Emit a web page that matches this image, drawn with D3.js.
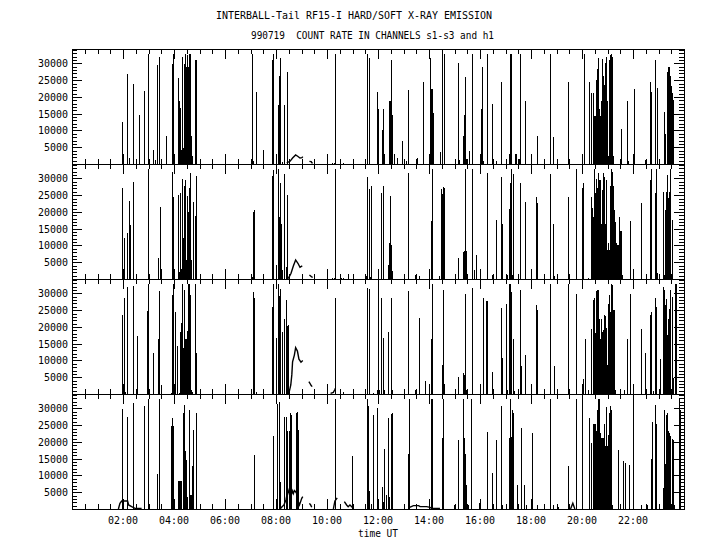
<!DOCTYPE html>
<html>
<head>
<meta charset="utf-8">
<script src="https://cdn.jsdelivr.net/npm/d3@7"></script>
<style>
html,body{margin:0;padding:0;background:#fff;}
svg{display:block;}
text{font-family:"DejaVu Sans Mono","Liberation Mono",monospace;fill:#000;}
</style>
</head>
<body>
<svg id="chart" width="720" height="550"></svg>
<script>
// ---------- text ----------
const titleLine1 = "INTERBALL-Tail RF15-I HARD/SOFT X-RAY EMISSION";
const titleLine2 = "990719  COUNT RATE IN CHANNELS s1-s3 and h1";
const xAxisTitle = "time UT";
const channels = ["s1", "s2", "s3", "h1"];

// ---------- ticks ----------
const xTickHours = [2, 4, 6, 8, 10, 12, 14, 16, 18, 20, 22];
const xTickLabels = ["02:00","04:00","06:00","08:00","10:00","12:00","14:00","16:00","18:00","20:00","22:00"];
const yTickValues = [5000, 10000, 15000, 20000, 25000, 30000];
const yTickLabels = ["5000","10000","15000","20000","25000","30000"];
const xDomain = [0, 24];
const yDomain = [0, 34300];

// ---------- data: spikes [hour UT, counts] ----------
const spikesS1 = [
 [1.97,12500],[2.01,2500],[2.16,26800],[2.25,1800],[2.41,23800],[2.64,14500],[2.82,21700],[2.99,32767],
 [3.19,4100],[3.27,1100],[3.35,29500],[3.42,32000],[3.50,1300],[3.67,8500],[3.93,29800],[3.97,32767],[4.01,2500],
 [4.16,25600],[4.20,18800],[4.24,16600],[4.27,4300],[4.31,32000],[4.35,4800],[4.39,29800],[4.43,32767],
 [4.47,29000],[4.51,32500],[4.55,28800],[4.59,32767],[4.63,32767],[4.67,8500],[4.71,2300],[4.82,31000],[4.86,31000],
 [7.05,1300],[7.07,32767],[7.10,800],[7.23,21600],[7.50,4300],[7.86,31000],[7.90,32767],[8.00,2500],
 [8.09,17500],[8.13,26200],[8.17,31500],[8.24,500],[8.33,17500],[8.44,27500],
 [10.20,300],[10.27,300],[10.30,400],[10.33,32767],[10.63,300],
 [11.58,32767],[11.66,31600],[11.96,21600],[12.00,16500],[12.16,10000],[12.20,16500],[12.25,3000],
 [12.44,18700],[12.48,18700],[12.52,31000],[12.56,14600],[12.61,3000],[12.75,1700],[12.94,7000],[13.09,800],
 [13.19,22200],[13.49,1300],[13.54,1800],[13.78,24600],[14.01,2300],[14.05,31500],[14.08,22400],[14.10,22400],
 [14.14,15200],[14.44,3500],[14.52,32767],[14.60,32767],[15.15,30100],[15.19,1100],
 [15.35,8500],[15.38,14500],[15.42,25800],[15.45,1500],[15.48,1300],[15.58,4000],[15.67,32767],[15.70,27300],
 [16.01,2500],[16.05,16500],[16.09,29000],[16.13,1000],[16.29,32767],[16.48,18000],[16.52,1300],[16.61,1000],
 [16.64,1000],[16.84,24600],[17.13,3000],[17.16,29800],[17.19,32767],[17.21,32767],[17.37,3000],[17.41,3000],
 [17.51,1500],[17.58,32767],[17.76,18700],[18.01,2500],[18.25,8500],[18.52,1300],[18.75,32767],[18.86,8000],
 [19.46,24600],[19.50,1300],[19.99,2500],[20.08,32767],[20.26,24600],[20.36,21300],
 [20.44,21200],[20.48,14400],[20.52,14400],[20.56,25200],[20.60,28200],[20.64,31700],[20.68,16400],[20.72,14400],
 [20.76,18700],[20.80,31400],[20.84,26200],[20.87,23700],[20.91,30100],[20.95,32000],[20.99,18700],[21.03,2300],
 [21.07,31100],[21.11,32400],[21.15,32767],[21.19,32000],[21.23,2300],
 [21.49,1500],[21.54,10500],[21.78,18700],[21.82,800],[22.01,2500],[22.05,22400],[22.49,1300],[22.68,24600],
 [22.72,21600],[22.88,31000],[22.93,22700],[23.03,1300],
 [23.20,15500],[23.27,8800],[23.32,27300],[23.36,28800],[23.40,28800],[23.44,26200],[23.48,23200],[23.52,21200],[23.56,19200]
];
const spikesS2 = [
 [1.97,27200],[2.01,2400],[2.05,12200],[2.17,13700],[2.25,23300],[2.29,16100],[2.41,29000],[2.97,3900],[2.99,32767],
 [3.37,6300],[3.44,21500],[3.50,3000],[3.93,32000],[3.97,24500],[4.01,1000],
 [4.16,25200],[4.20,2000],[4.24,25700],[4.27,3000],[4.31,29800],[4.35,12200],[4.39,27800],[4.43,29600],
 [4.47,5700],[4.51,24800],[4.55,20000],[4.59,27200],[4.63,31700],[4.67,5700],[4.76,23000],[4.84,18800],[4.88,30700],
 [7.05,700],[7.11,20000],[7.15,20600],[7.50,1200],[7.86,30700],[7.90,32500],[8.00,4200],[8.09,32767],[8.13,18500],
 [8.17,28600],[8.21,16400],[8.25,2700],[8.33,31300],[8.40,3600],[8.44,25000],
 [10.18,200],[10.27,300],[10.33,32767],[10.55,300],[10.63,300],[10.84,1500],
 [11.52,1000],[11.58,30500],[11.66,26900],[11.69,500],[11.74,27800],[11.99,2400],[12.13,25700],[12.21,27800],
 [12.40,4200],[12.44,10700],[12.48,24800],[12.52,10100],[12.56,2400],[13.19,31600],[13.46,1200],[13.62,900],
 [14.09,17300],[14.13,32767],[14.40,900],[14.48,26900],[14.52,25400],[14.56,27500],[14.60,27200],[15.02,1200],[15.15,6300],
 [15.35,8100],[15.38,8400],[15.42,32767],[15.46,8400],[15.50,1200],[15.67,32767],[15.70,25700],[15.78,2700],[15.86,7200],
 [16.01,2400],[16.29,31700],[16.48,1200],[16.52,1200],[16.64,17600],[16.84,30400],[16.88,16400],[17.05,1200],
 [17.15,20900],[17.17,28600],[17.21,32767],[17.25,1200],[17.31,31300],[17.58,28600],[17.78,23000],[18.01,2400],
 [18.21,24500],[18.25,22700],[18.52,1200],[18.76,31300],[18.88,16400],[18.92,900],[19.03,1200],[19.46,24500],
 [19.78,32767],[20.01,27200],[20.05,28600],[20.25,300],[20.35,24500],
 [20.39,21200],[20.43,18500],[20.47,32767],[20.51,25700],[20.55,29800],[20.59,27200],[20.63,31600],[20.67,29600],
 [20.71,29600],[20.75,16400],[20.78,26500],[20.82,31600],[20.86,30500],[20.90,16400],[20.94,29600],[20.98,8700],
 [21.02,10700],[21.06,8700],[21.10,27700],[21.14,32767],[21.18,32000],[21.21,27700],[21.25,20600],[21.29,17100],
 [21.33,10700],[21.37,10200],[21.41,10200],[21.45,18600],[21.49,14400],[21.53,14400],[21.57,1200],
 [21.89,17300],[21.99,300],[22.33,22700],[22.52,1200],[22.68,29600],[22.72,32767],[22.88,25700],[22.92,32767],
 [22.95,1800],[23.00,1200],
 [23.19,26000],[23.23,1200],[23.27,20600],[23.31,26000],[23.35,31000],[23.39,24200],[23.43,26000],[23.47,32767],[23.51,17600]
];
const spikesS3 = [
 [1.97,23600],[2.01,2700],[2.05,28700],[2.09,700],[2.17,31900],[2.41,32200],[2.52,1200],[2.56,17300],[2.95,24800],
 [2.99,32767],[3.19,12200],[3.37,16400],[3.40,11600],[3.42,30700],[3.50,2700],
 [3.90,300],[3.93,29500],[3.97,32767],[4.01,2400],[4.05,24500],[4.13,14300],[4.21,300],[4.25,18500],[4.29,21200],
 [4.33,32767],[4.36,13700],[4.40,31000],[4.44,16400],[4.48,16400],[4.52,18800],[4.56,32767],[4.60,32767],
 [4.64,29600],[4.68,1200],[4.72,700],[4.84,32767],[4.88,12200],
 [7.11,30500],[7.15,28700],[7.23,700],[7.86,26000],[7.90,32767],[8.01,16700],[8.09,32767],[8.13,29300],[8.17,31300],
 [8.25,18500],[8.33,22400],[8.41,28100],[8.44,20300],[8.48,20600],
 [10.33,28700],[10.63,500],[11.58,31600],[11.66,31300],[11.82,200],[11.96,1200],[12.00,32767],[12.04,1200],
 [12.13,28700],[12.21,16700],[12.25,1200],[12.40,18500],[12.52,28700],[12.56,1200],[13.19,30700],[13.46,1200],
 [13.62,22700],[13.86,4000],[14.09,16400],[14.13,32767],[14.52,8700],[14.56,31000],[14.60,3000],[15.15,5100],
 [15.35,6300],[15.38,5700],[15.42,29800],[15.46,1200],[15.67,31500],[16.01,2400],[16.13,28700],[16.25,27800],
 [16.29,27800],[16.48,6600],[16.52,1200],[16.84,25700],[16.88,10700],[17.01,26900],[17.05,1200],[17.14,32767],
 [17.18,32767],[17.21,30400],[17.31,16400],[17.35,900],[17.58,31000],[17.62,8400],[17.78,11600],[18.01,2400],
 [18.21,26600],[18.25,25100],[18.52,1200],[18.76,32767],[18.91,8400],[19.46,32767],[19.78,29800],[20.01,2400],
 [20.05,4500],[20.13,16400],[20.22,1200],[20.37,19400],
 [20.44,28100],[20.48,28700],[20.52,18200],[20.56,30700],[20.60,31000],[20.64,31000],[20.68,22400],[20.72,16400],
 [20.76,22400],[20.80,18500],[20.84,19100],[20.88,23600],[20.92,23300],[20.95,19600],[20.99,8700],[21.03,26900],
 [21.07,29600],[21.11,24600],[21.15,32767],[21.19,32400],[21.23,25100],[21.27,25100],[21.31,1200],
 [21.48,1200],[21.64,1200],[21.78,16400],[21.89,29800],[22.01,1200],[22.33,19400],[22.48,12200],[22.68,23600],
 [22.72,24500],[22.80,1000],[22.88,28700],[22.92,26000],[23.01,1200],[23.07,10500],
 [23.19,32000],[23.23,31000],[23.27,26600],[23.31,28400],[23.35,17600],[23.39,22500],[23.43,25400],[23.47,31000],
 [23.51,28800],[23.55,4800],[23.65,32767],[23.69,32767]
];
const spikesH1 = [
 [1.97,29800],[2.01,2400],[2.17,27500],[2.41,31700],[2.84,30700],[2.99,32767],[3.35,10500],[3.42,32767],
 [3.90,24800],[3.93,27200],[3.97,24800],[4.01,2400],[4.17,8500],[4.21,8500],[4.25,8500],[4.27,8500],
 [4.34,28700],[4.36,17300],[4.40,31000],[4.44,17300],[4.48,14600],[4.52,3700],[4.60,29600],[4.63,4200],
 [4.68,4200],[4.72,12700],[4.76,23600],[4.88,28700],
 [7.15,16100],[7.87,21800],[8.03,31300],[8.10,31900],[8.14,8000],[8.31,27500],[8.39,27500],[8.43,23300],
 [8.51,23300],[8.55,28700],[8.59,28100],[8.78,28700],[8.82,29000],[8.86,23600],
 [10.31,32767],[10.99,15800],
 [11.49,900],[11.58,32767],[11.62,30700],[11.65,5400],[11.74,1500],[11.82,28100],[11.97,30100],[12.00,2700],
 [12.16,6500],[12.20,2200],[12.25,17900],[12.33,4200],[12.41,27200],[12.45,3700],[12.52,28400],[12.56,28700],
 [13.16,16400],[13.20,32767],[14.08,32767],[14.12,32767],[14.51,21200],[14.55,32767],[14.98,1200],[15.02,500],
 [15.15,20600],[15.35,32767],[15.38,21300],[15.42,16300],[15.46,7200],[15.50,1200],[15.54,1200],[15.66,32767],
 [15.97,1700],[16.29,22900],[16.48,10700],[16.64,20600],[16.82,30700],[16.86,1200],[17.15,21300],[17.19,32767],
 [17.23,21500],[17.27,29600],[17.31,28600],[17.46,7200],[17.62,24200],[17.72,7200],[17.80,1200],[18.05,22700],
 [18.24,1200],[18.76,32767],[18.88,1200],[19.07,500],[19.46,12900],[19.78,32767],[20.01,32767],[20.29,27200],[20.37,19600],
 [20.44,25400],[20.48,25400],[20.52,25400],[20.56,23300],[20.60,29600],[20.64,32767],[20.68,32767],[20.72,22700],
 [20.76,21200],[20.80,21100],[20.84,21100],[20.88,25500],[20.92,18900],[20.95,30500],[20.99,18700],[21.03,22200],
 [21.07,28600],[21.11,30700],[21.15,29600],[21.19,1200],
 [21.42,17600],[21.62,14300],[21.68,13800],[21.84,13000],[22.01,32767],[22.32,1200],[22.56,1200],[22.72,14800],
 [22.76,26000],[22.85,31000],[22.88,27600],[22.92,25300],[23.03,1200],
 [23.19,6200],[23.23,29600],[23.27,13300],[23.31,28100],[23.35,28600],[23.39,23400],[23.43,22800],[23.47,21700],
 [23.51,20800],[23.55,20600],[23.59,1200],[23.82,32767],[23.86,29600]
];

// ---------- data: continuous stretches [hour UT, counts] ----------
const curvesS1 = [
 [[8.42,300],[8.55,800],[8.65,1800],[8.77,2700],[8.85,2300],[8.94,1800],[9.02,1900],[9.05,2200]],
 [[9.31,800],[9.38,700],[9.40,400],[9.44,300]]
];
const curvesS2 = [
 [[8.46,200],[8.50,400],[8.59,1700],[8.68,3900],[8.77,5700],[8.86,4700],[8.94,3500],[8.98,3700],[9.03,3900]],
 [[9.31,1200],[9.36,900],[9.40,600],[9.44,500]]
];
const curvesS3 = [
 [[8.52,700],[8.58,2700],[8.62,5700],[8.65,9600],[8.72,11600],[8.77,13800],[8.84,12800],[8.90,10400],[8.98,9500],[9.05,10000]],
 [[9.29,3700],[9.33,3200],[9.38,2500],[9.42,2200]],
 [[10.14,200],[10.25,500],[10.30,1200],[10.33,1700]]
];
const curvesH1 = [
 [[1.82,0],[1.88,1700],[1.95,2400],[2.18,2400],[2.22,1200],[2.34,700],[2.47,200],[2.73,200]],
 [[8.16,0],[8.22,500],[8.31,1200],[8.39,2700],[8.47,5700],[8.52,4500],[8.56,5700],[8.60,4200],[8.64,5400],
  [8.68,4600],[8.72,5500],[8.76,5200],[8.80,4800],[8.86,2500],[8.92,1200],[9.01,3200],[9.05,3700]],
 [[9.31,1700],[9.36,1200],[9.40,500]],
 [[10.25,0],[10.31,2400],[10.40,3300]],
 [[10.68,2200],[10.77,1200],[10.83,700],[10.90,1200],[11.03,200]],
 [[13.24,500],[13.39,1000],[13.49,1000],[13.59,1000],[13.65,700],[13.91,700],[14.04,500],[14.10,200],[14.43,200]],
 [[19.55,0],[19.64,1700],[19.72,0]]
];

const spikeSets = [spikesS1, spikesS2, spikesS3, spikesH1];
const curveSets = [curvesS1, curvesS2, curvesS3, curvesH1];

// ---------- layout ----------
const svg = d3.select("#chart");
const plotLeft = 72, plotRight = 684;
const panelTops = [49, 164, 279, 394];
const panelH = 115;

const x = d3.scaleLinear().domain(xDomain).range([plotLeft, plotRight]);
const xMinor = d3.range(0, 24.01, 0.5);
const yMinor = d3.range(0, 34001, 1000);

svg.append("rect").attr("width",720).attr("height",550).attr("fill","#fff");

// titles
svg.append("text").attr("x",216).attr("y",19).attr("textLength",276).attr("lengthAdjust","spacingAndGlyphs")
  .style("font-size","11px").text(titleLine1);
svg.append("text").attr("x",251).attr("y",39).attr("textLength",243).attr("lengthAdjust","spacingAndGlyphs")
  .style("font-size","11px").attr("xml:space","preserve").style("white-space","pre").text(titleLine2);

channels.forEach((ch, i) => {
  const top = panelTops[i], bottom = top + panelH;
  const y = d3.scaleLinear().domain(yDomain).range([bottom, top]);
  const g = svg.append("g").attr("class","panel-"+ch);

  const clipId = "clip"+i;
  svg.append("clipPath").attr("id",clipId).append("rect")
    .attr("x",plotLeft).attr("y",top).attr("width",plotRight-plotLeft).attr("height",panelH);

  const dg = g.append("g").attr("clip-path","url(#"+clipId+")");
  // spikes
  dg.selectAll("line.spike").data(spikeSets[i]).join("line").attr("class","spike")
    .attr("x1", d => Math.round(x(d[0]))+0.5).attr("x2", d => Math.round(x(d[0]))+0.5)
    .attr("y1", bottom).attr("y2", d => y(d[1]))
    .attr("stroke","#000").attr("stroke-width",1).attr("shape-rendering","crispEdges");
  // curves
  const line = d3.line().x(d => x(d[0])).y(d => y(d[1]));
  dg.selectAll("path.curve").data(curveSets[i]).join("path").attr("class","curve")
    .attr("d", line).attr("fill","none").attr("stroke","#000").attr("stroke-width",1.4);

  // axes: ticks inward
  const ax = g.append("g").attr("shape-rendering","crispEdges");
  const addAxis = (axisFn, scale, vals, size, transform) => {
    const a = ax.append("g").attr("transform",transform)
      .call(axisFn(scale).tickValues(vals).tickSize(size).tickFormat(""));
    a.select(".domain").remove();
    a.selectAll("line").attr("stroke","#000");
  };
  const xMajor = d3.range(0, 24.01, 2);
  addAxis(d3.axisBottom, x, xMinor, -5, `translate(0,${bottom})`);
  addAxis(d3.axisBottom, x, xMajor, -10, `translate(0,${bottom})`);
  addAxis(d3.axisTop, x, xMinor, -5, `translate(0,${top})`);
  addAxis(d3.axisTop, x, xMajor, -10, `translate(0,${top})`);
  addAxis(d3.axisLeft, y, yMinor, -5, `translate(${plotLeft},0)`);
  addAxis(d3.axisLeft, y, yTickValues, -10, `translate(${plotLeft},0)`);
  addAxis(d3.axisRight, y, yMinor, -5, `translate(${plotRight},0)`);
  addAxis(d3.axisRight, y, yTickValues, -10, `translate(${plotRight},0)`);

  g.append("rect").attr("x",plotLeft+0.5).attr("y",top+0.5).attr("width",plotRight-plotLeft)
    .attr("height",panelH).attr("fill","none").attr("stroke","#000").attr("stroke-width",1)
    .attr("shape-rendering","crispEdges");

  // y tick labels
  g.selectAll("text.ylab").data(yTickValues).join("text").attr("class","ylab")
    .attr("x",68).attr("y", d => y(d)+4).attr("text-anchor","end")
    .style("font-size","11px")
    .attr("textLength", (d,k) => yTickLabels[k].length*6).attr("lengthAdjust","spacingAndGlyphs")
    .text((d,k) => yTickLabels[k]);

  if (i === channels.length-1) {
    g.selectAll("text.xlab").data(xTickHours).join("text").attr("class","xlab")
      .attr("x", d => x(d)).attr("y", bottom+15).attr("text-anchor","middle")
      .style("font-size","11px").attr("textLength",30).attr("lengthAdjust","spacingAndGlyphs")
      .text((d,k) => xTickLabels[k]);
    g.append("text").attr("x",(plotLeft+plotRight)/2).attr("y",bottom+28).attr("text-anchor","middle")
      .style("font-size","11px").attr("textLength",40).attr("lengthAdjust","spacingAndGlyphs").text(xAxisTitle);
  }
});
</script>
</body>
</html>
